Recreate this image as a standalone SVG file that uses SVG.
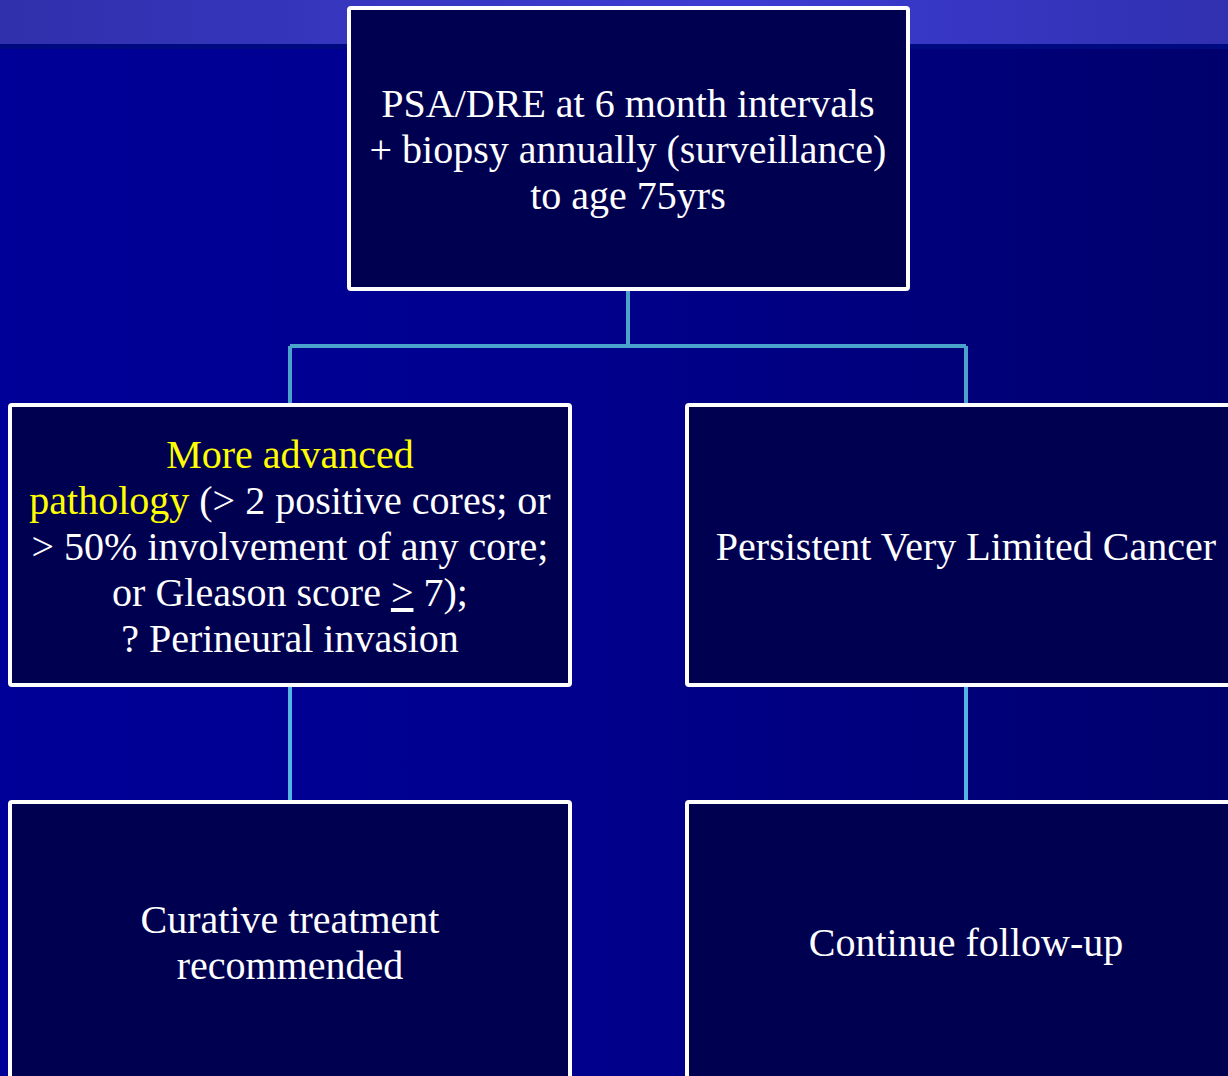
<svg xmlns="http://www.w3.org/2000/svg" width="1228" height="1076" viewBox="0 0 1228 1076">
  <defs>
    <linearGradient id="bg" x1="0" y1="0" x2="1" y2="0">
      <stop offset="0" stop-color="#000098"/>
      <stop offset="0.45" stop-color="#00008e"/>
      <stop offset="1" stop-color="#00006c"/>
    </linearGradient>
    <linearGradient id="band" x1="0" y1="0" x2="1" y2="0">
      <stop offset="0" stop-color="#3030ac"/>
      <stop offset="0.6" stop-color="#3c3cd4"/>
      <stop offset="1" stop-color="#3030b0"/>
    </linearGradient>
    <style>
      .box { fill: #000050; stroke: #ffffff; stroke-width: 4; }
      .lbl { font-family: "Liberation Serif", "Times New Roman", serif; font-size: 40px; fill: #ffffff; text-anchor: middle; }
      .hi { fill: #ffff00; }
      .link { fill: none; stroke: #4aa3cc; stroke-width: 4; }
      .link2 { fill: none; stroke: #55b4e6; stroke-width: 4; }
    </style>
  </defs>

  <!-- background -->
  <rect x="0" y="0" width="1228" height="1076" fill="url(#bg)"/>
  <rect x="0" y="0" width="1228" height="44" fill="url(#band)"/>
  <rect x="0" y="44" width="1228" height="5" fill="#000a80"/>

  <!-- connectors -->
  <g id="connectors">
    <path class="link" d="M628 289 V346 M290 346 H966 M290 346 V404 M966 346 V404"/>
    <path class="link2" d="M290 686 V801 M966 686 V801"/>
  </g>

  <g id="node-surveillance">
    <rect class="box" x="349" y="8" width="559" height="281" rx="2"/>
    <text class="lbl" x="628" y="117">PSA/DRE at 6 month intervals</text>
    <text class="lbl" x="628" y="163">+ biopsy annually (surveillance)</text>
    <text class="lbl" x="628" y="209">to age 75yrs</text>
  </g>

  <g id="node-advanced">
    <rect class="box" x="10" y="405" width="560" height="280" rx="2"/>
    <text class="lbl hi" x="290" y="468">More advanced</text>
    <text class="lbl" x="290" y="514"><tspan class="hi">pathology</tspan> (&gt; 2 positive cores; or</text>
    <text class="lbl" x="290" y="560">&gt; 50% involvement of any core;</text>
    <text class="lbl" x="290" y="606">or Gleason score <tspan text-decoration="underline">&gt;</tspan> 7);</text>
    <text class="lbl" x="290" y="652">? Perineural invasion</text>
  </g>

  <g id="node-limited">
    <rect class="box" x="687" y="405" width="560" height="280" rx="2"/>
    <text class="lbl" x="966" y="560">Persistent Very Limited Cancer</text>
  </g>

  <g id="node-curative">
    <rect class="box" x="10" y="802" width="560" height="300" rx="2"/>
    <text class="lbl" x="290" y="933">Curative treatment</text>
    <text class="lbl" x="290" y="979">recommended</text>
  </g>

  <g id="node-followup">
    <rect class="box" x="687" y="802" width="560" height="300" rx="2"/>
    <text class="lbl" x="966" y="956">Continue follow-up</text>
  </g>
</svg>
